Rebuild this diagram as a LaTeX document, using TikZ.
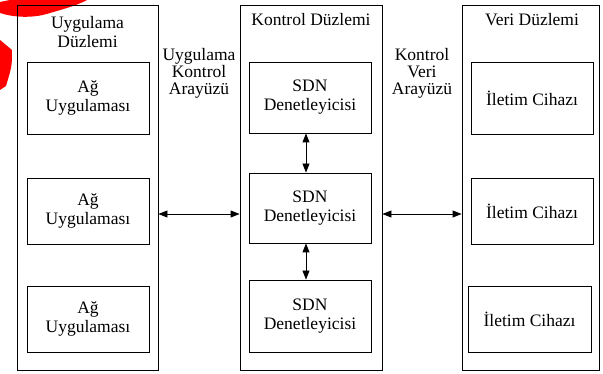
\documentclass[tikz,border=0pt]{standalone}
\usepackage{fontspec}
\setmainfont{Liberation Serif}
\usetikzlibrary{arrows.meta}

\tikzset{
  plane/.style={draw, line width=0.9pt, minimum width=#1, minimum height=365pt, inner sep=0pt},
  unit/.style={draw, line width=0.9pt, align=center, minimum width=122pt, minimum height=#1, inner sep=0pt,
    font=\fontsize{17.5}{19}\selectfont},
  caption/.style={align=center, inner sep=0pt, font=\fontsize{17.5}{19.5}\selectfont},
  link/.style={{Triangle[length=9pt,width=7pt]}-{Triangle[length=9pt,width=7pt]}, line width=0.9pt}
}

\begin{document}
\begin{tikzpicture}[x=1pt, y=-1pt]
    \useasboundingbox (0,0) rectangle (603,374);

    % red mark
    \fill[red] (0,2) -- (0,13) .. controls (12,17) and (32,19) .. (50,13)
        .. controls (64,9) and (78,5) .. (87,0) -- (10,0) -- cycle;
    \fill[red] (0,40) -- (12,50) .. controls (12,66) .. (6,86) -- (0,90) -- cycle;

    % planes
    \node[plane=141pt] (app) at (87.5,187.5) {};
    \node[plane=142pt] (ctrl) at (311,187.5) {};
    \node[plane=137pt] (data) at (530.5,187.5) {};
    \node[caption] (apptitle) at (87.5,32) {Uygulama\\Düzlemi};
    \node[caption] (ctrltitle) at (311,20) {Kontrol Düzlemi};
    \node[caption] (datatitle) at (532,20) {Veri Düzlemi};

    % interfaces
    \node[caption, font=\fontsize{17.5}{17}\selectfont] (aci) at (199,73) {Uygulama\\Kontrol\\Arayüzü};
    \node[caption, font=\fontsize{17.5}{17}\selectfont] (kvi) at (422,73) {Kontrol\\Veri\\Arayüzü};

    % applications
    \node[unit=72pt] (app1) at (88,98) {Ağ\\Uygulaması};
    \node[unit=66pt] (app2) at (88,211) {Ağ\\Uygulaması};
    \node[unit=66pt] (app3) at (88,319) {Ağ\\Uygulaması};

    % controllers
    \node[unit=71pt] (ctrl1) at (310,97.5) {SDN\\Denetleyicisi};
    \node[unit=70pt] (ctrl2) at (310,208) {SDN\\Denetleyicisi};
    \node[unit=72pt] (ctrl3) at (310,316) {SDN\\Denetleyicisi};

    % forwarding devices
    \node[unit=72pt] (data1) at (532,98) {İletim Cihazı};
    \node[unit=66pt] (data2) at (532,211) {İletim Cihazı};
    \node[unit=66pt, minimum width=123pt] (data3) at (529.5,319) {İletim Cihazı};

    % links
    \coordinate (mid) at (0,214);
    \draw[link] ([xshift=-4pt]ctrl1.south) -- ([xshift=-4pt]ctrl2.north);
    \draw[link] ([xshift=-4pt]ctrl2.south) -- ([xshift=-4pt]ctrl3.north);
    \draw[link] (app.east |- mid) -- (ctrl.west |- mid);
    \draw[link] (ctrl.east |- mid) -- (data.west |- mid);
\end{tikzpicture}
\end{document}
